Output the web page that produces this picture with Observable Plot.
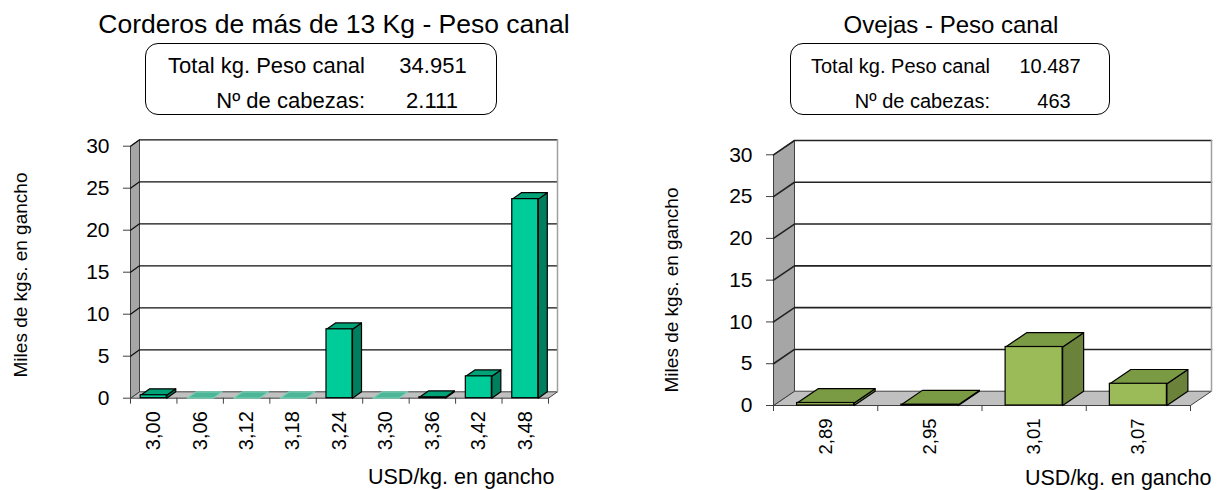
<!DOCTYPE html>
<html>
<head>
<meta charset="utf-8">
<script src="https://cdn.jsdelivr.net/npm/d3@7"></script>
<script src="https://cdn.jsdelivr.net/npm/@observablehq/plot@0.6"></script>
<style>
  html, body { margin: 0; padding: 0; background: #fff; }
  #wrap { position: relative; width: 1223px; height: 490px; overflow: hidden; font-family: "Liberation Sans", Arial, sans-serif; color: #000; }
  .abs { position: absolute; white-space: nowrap; line-height: 1; }
  .box { position: absolute; border: 1.5px solid #000; border-radius: 13px; box-sizing: border-box; }
  .rot { position: absolute; white-space: nowrap; line-height: 1; transform: translate(-50%, -50%) rotate(-90deg); }
  svg { position: absolute; top: 0; }
</style>
</head>
<body>
<div id="wrap"></div>
<script>
// ---- data ----
const yTicks = [0, 5, 10, 15, 20, 25, 30];

const lambTitle = "Corderos de más de 13 Kg - Peso canal";
const lambCats = ["3,00", "3,06", "3,12", "3,18", "3,24", "3,30", "3,36", "3,42", "3,48"];
const lambVals = [0.35, 0, 0, 0, 8.2, 0, 0.1, 2.6, 23.7];
const lambTotalKg = "34.951";
const lambHeads = "2.111";

const eweTitle = "Ovejas - Peso canal";
const eweCats = ["2,89", "2,95", "3,01", "3,07"];
const eweVals = [0.3, 0.1, 7.0, 2.6];
const eweTotalKg = "10.487";
const eweHeads = "463";

const yTitle = "Miles de kgs. en gancho";
const xTitle = "USD/kg. en gancho";
const rowLabels = ["Total kg. Peso canal", "Nº de cabezas:"];

// ---- drawing ----
const wrap = document.getElementById("wrap");

function poly(id, pts) { return pts.map(([x, y]) => ({id, x, y})); }

function chart3d(cfg) {
  const {cats, vals, left, width, mL, mR, mT, mB, dX, dY, barW, c, gridColor, gridW, xFont, yFont, xPad, yPad} = cfg;
  const n = cats.length;
  const yMax = d3.max(yTicks);
  const floor = poly("floor", [[0, 0], [n, 0], [n + dX, dY], [dX, dY], [0, 0]]);
  const wall = poly("wall", [[0, 0], [dX, dY], [dX, yMax + dY], [0, yMax], [0, 0]]);
  const grid = yTicks.filter(v => v > 0).flatMap(v => poly("g" + v, [[0, v], [dX, v + dY], [n + dX, v + dY]]));
  const edge = poly("edge", [[n + dX, dY], [n + dX, yMax + dY]]);
  const bars = cats.map((k, i) => {
    const x1 = i + (1 - barW) / 2;
    return {i, k, v: vals[i], x1, x2: x1 + barW, y0: 0};
  });
  const nz = bars.filter(b => b.v > 0);
  const zr = bars.filter(b => b.v === 0);
  const sides = nz.flatMap(b => poly("s" + b.i, [[b.x2, 0], [b.x2 + dX, dY], [b.x2 + dX, b.v + dY], [b.x2, b.v], [b.x2, 0]]));
  const top = b => poly("t" + b.i, [[b.x1, b.v], [b.x2, b.v], [b.x2 + dX, b.v + dY], [b.x1 + dX, b.v + dY], [b.x1, b.v]]);
  const tops = nz.flatMap(top);
  const ztops = zr.flatMap(top);

  const svg = Plot.plot({
    width, height: 490,
    marginLeft: mL, marginRight: mR, marginTop: mT, marginBottom: mB,
    x: {domain: [0, n + dX]},
    y: {domain: [0, yMax + dY]},
    style: {fontFamily: "'Liberation Sans', Arial, sans-serif", background: "transparent", color: "#000", overflow: "visible"},
    marks: [
      Plot.line(floor, {x: "x", y: "y", z: "id", fill: "#c0c0c0", stroke: "#404040", strokeWidth: 1}),
      Plot.line(wall, {x: "x", y: "y", z: "id", fill: "#a6a6a6", stroke: "#404040", strokeWidth: 1}),
      Plot.line(grid, {x: "x", y: "y", z: "id", stroke: gridColor, strokeWidth: gridW}),
      Plot.line(edge, {x: "x", y: "y", z: "id", stroke: "#a0a0a0", strokeWidth: 1.5}),
      Plot.line(ztops, {x: "x", y: "y", z: "id", fill: c.zeroTop, stroke: c.zeroStroke, strokeWidth: 1.2}),
      Plot.line(sides, {x: "x", y: "y", z: "id", fill: c.side, stroke: "#000", strokeWidth: 1.2}),
      Plot.line(tops, {x: "x", y: "y", z: "id", fill: c.top, stroke: "#000", strokeWidth: 1.2}),
      Plot.rect(nz, {x1: "x1", x2: "x2", y1: "y0", y2: "v", fill: c.front, stroke: "#000", strokeWidth: 1.2}),
      Plot.axisY({ticks: yTicks, tickSize: 7, tickPadding: yPad, fontSize: yFont, label: null, stroke: "#404040"}),
      Plot.axisX({ticks: d3.range(n + 1), tickSize: 6, tickFormat: () => "", label: null, stroke: "#404040"}),
      Plot.axisX({ticks: d3.range(n).map(i => i + 0.5), tickSize: 0, tickPadding: xPad, tickRotate: -90,
                  tickFormat: d => cats[Math.floor(d)], fontSize: xFont, label: null})
    ]
  });
  svg.style.left = left + "px";
  wrap.appendChild(svg);
}

chart3d({cats: lambCats, vals: lambVals, left: 0, width: 611, mL: 130, mR: 54, mT: 139.3, mB: 92.3,
  dX: 0.194, dY: 0.762, barW: 0.56, gridColor: "#111", gridW: 1.3, xFont: 20, yFont: 21, xPad: 13, yPad: 14,
  c: {front: "#00CC99", side: "#007F5F", top: "#00A377", zeroTop: "#4db598", zeroStroke: "#7ccfb4"}});

chart3d({cats: eweCats, vals: eweVals, left: 611, width: 612, mL: 162, mR: 12, mT: 140, mB: 85,
  dX: 0.2014, dY: 1.71, barW: 0.547, gridColor: "#222", gridW: 1.6, xFont: 18.5, yFont: 21, xPad: 13, yPad: 14,
  c: {front: "#9BBB59", side: "#6A8239", top: "#7B9A44", zeroTop: "#7B9A44", zeroStroke: "#000"}});

// ---- text (titles, boxes, axis titles) ----
function txt(s, x, y, size, align) {
  const d = document.createElement("div");
  d.className = "abs";
  d.textContent = s;
  d.style.fontSize = size + "px";
  d.style.top = y + "px";
  d.style.left = x + "px";
  if (align === "center") d.style.transform = "translateX(-50%)";
  else if (align === "right") d.style.transform = "translateX(-100%)";
  wrap.appendChild(d);
}
function rot(s, cx, cy, size) {
  const d = document.createElement("div");
  d.className = "rot";
  d.textContent = s;
  d.style.fontSize = size + "px";
  d.style.left = cx + "px";
  d.style.top = cy + "px";
  wrap.appendChild(d);
}
function box(x, y, w, h) {
  const d = document.createElement("div");
  d.className = "box";
  Object.assign(d.style, {left: x + "px", top: y + "px", width: w + "px", height: h + "px"});
  wrap.appendChild(d);
}

txt(lambTitle, 334, 11, 26.5, "center");
box(145, 43, 352, 72);
txt(rowLabels[0], 365, 54.5, 22, "right");
txt(lambTotalKg, 433, 54.5, 22, "center");
txt(rowLabels[1], 365, 89.5, 22, "right");
txt(lambHeads, 432, 89.5, 22, "center");

txt(eweTitle, 951, 12.7, 24, "center");
box(790, 43, 320, 72);
txt(rowLabels[0], 990, 55.8, 20, "right");
txt(eweTotalKg, 1050, 55.8, 20, "center");
txt(rowLabels[1], 990, 91, 20, "right");
txt(eweHeads, 1054, 91, 20, "center");

rot(yTitle, 19.5, 275, 19);
rot(yTitle, 671, 290, 19);
txt(xTitle, 368, 467, 21.5, "left");
txt(xTitle, 1025, 467.5, 21.5, "left");
</script>
</body>
</html>
